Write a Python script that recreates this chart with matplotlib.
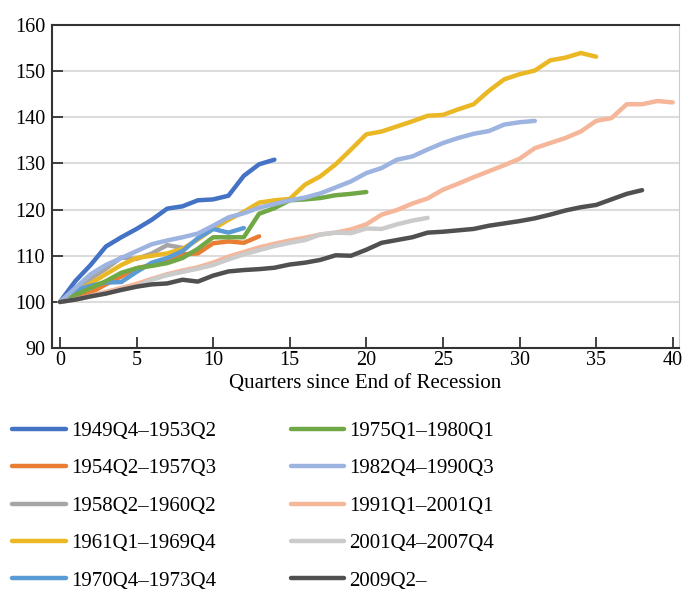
import matplotlib
matplotlib.use('Agg')
import matplotlib.pyplot as plt

plt.rcParams['font.family'] = ['Liberation Serif', 'DejaVu Serif']

labels = ['1949Q4\u20131953Q2', '1954Q2\u20131957Q3', '1958Q2\u20131960Q2',
          '1961Q1\u20131969Q4', '1970Q4\u20131973Q4', '1975Q1\u20131980Q1',
          '1982Q4\u20131990Q3', '1991Q1\u20132001Q1', '2001Q4\u20132007Q4',
          '2009Q2\u2013']
colors = ['#4472C4', '#E87D33', '#A5A5A5', '#EBB825', '#5B9BD5', '#70A845',
          '#9DB3E0', '#F5B699', '#CBCBCB', '#505050']

s1949 = [100, 104.5, 108, 112, 114, 115.8, 117.8, 120.2, 120.7, 122, 122.2,
         123, 127.3, 129.8, 130.8]
s1954 = [100, 101, 102, 103.8, 105.5, 107.3, 108, 109, 110.3, 110.5, 112.7,
         113.1, 112.8, 114.2]
s1958 = [100, 102.5, 105, 107.2, 109.6, 109.3, 110.5, 112.3, 111.7]
s1961 = [100, 102, 104, 106, 108, 109.5, 110, 110.5, 111.5, 113.5, 115.8,
         117.8, 119.5, 121.5, 122, 122.3, 125.4, 127.2, 129.8, 133, 136.3,
         136.9, 138, 139.1, 140.3, 140.5, 141.7, 142.8, 145.7, 148.2, 149.3,
         150.1, 152.3, 152.9, 153.9, 153.1]
s1970 = [100, 102.5, 103.5, 104.2, 104.3, 106.5, 108.5, 109.5, 111, 113.8,
         115.8, 115, 116]
s1975 = [100, 101.5, 103, 104.5, 106.3, 107.3, 107.8, 108.4, 109.5, 111.5,
         114, 114, 114, 119.1, 120.3, 122, 122.2, 122.5, 123.1, 123.4, 123.8]
s1982 = [100, 103, 106, 108, 109.5, 111, 112.5, 113.3, 114, 114.8, 116.5,
         118.3, 119.2, 120.4, 121.2, 122, 122.6, 123.5, 124.8, 126.1, 127.9,
         129, 130.8, 131.5, 133, 134.4, 135.5, 136.4, 137, 138.4, 138.9, 139.2]
s1991 = [100, 100.5, 101.3, 102.2, 103, 103.9, 105, 106, 106.8, 107.5, 108.5,
         109.8, 110.8, 111.8, 112.6, 113.3, 113.9, 114.6, 115, 115.7, 116.8,
         118.9, 119.9, 121.3, 122.4, 124.3, 125.6, 127, 128.3, 129.6, 131,
         133.3, 134.4, 135.5, 136.9, 139.2, 139.8, 142.8, 142.8, 143.5, 143.2]
s2001 = [100, 100.5, 101.2, 101.9, 102.6, 103.3, 104.8, 105.8, 106.5, 107.2,
         108, 109.2, 110.3, 111.2, 112.1, 112.8, 113.4, 114.6, 115, 114.9,
         115.9, 115.8, 116.8, 117.6, 118.2]
s2009 = [100, 100.5, 101.2, 101.8, 102.6, 103.3, 103.8, 104, 104.8, 104.4,
         105.7, 106.6, 106.9, 107.1, 107.4, 108.1, 108.5, 109.1, 110.1, 110,
         111.3, 112.8, 113.4, 114, 115, 115.2, 115.5, 115.8, 116.5, 117,
         117.5, 118.1, 118.9, 119.8, 120.5, 121, 122.2, 123.4, 124.2]

series = [s1949, s1954, s1958, s1961, s1970, s1975, s1982, s1991, s2001, s2009]

fig = plt.figure(figsize=(6.85, 5.91), dpi=100)
ax = fig.add_axes([0.0759, 0.411, 0.9151, 0.547])

for vals, lab, col in zip(series, labels, colors):
    ax.plot(range(len(vals)), vals, color=col, lw=3.2, label=lab,
            solid_capstyle='round', solid_joinstyle='round')

ax.set_xlim(-0.52, 40.4)
ax.set_ylim(90, 160)
ax.set_xticks(range(0, 41, 5))
ax.set_yticks(range(90, 161, 10))
ax.yaxis.grid(True, color='#dcdcdc', lw=1.5)
ax.set_axisbelow(True)
ax.tick_params(direction='in', length=8, width=1.3, color='#333333',
               labelsize=14.5)
ax.tick_params(axis='x', pad=2)
ax.tick_params(axis='y', pad=5)
for side in ['left', 'bottom', 'top']:
    ax.spines[side].set_color('#333333')
    ax.spines[side].set_linewidth(1.5)
ax.spines['right'].set_color('#cccccc')
ax.spines['right'].set_linewidth(0.8)
ax.set_xlabel('Quarters since End of Recession', fontsize=15, labelpad=3)

fig.legend(loc='upper left', bbox_to_anchor=(0.006, 0.301), ncol=2,
           frameon=False, fontsize=15, handlelength=2.55, handletextpad=0.25,
           columnspacing=3.6, labelspacing=0.855, borderaxespad=0,
           borderpad=0.4)

fig.savefig('out.png', dpi=100)
